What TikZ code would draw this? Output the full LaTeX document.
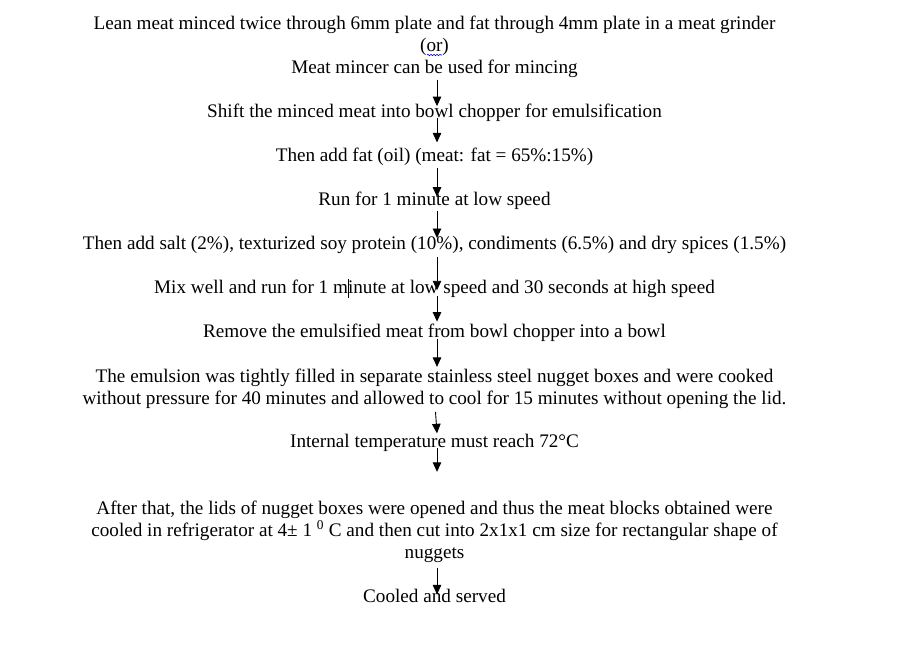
\documentclass[tikz,border=0pt]{standalone}
\usepackage{fontspec}
\setmainfont{Liberation Serif}
\usetikzlibrary{arrows.meta,decorations.pathmorphing}
\tikzset{
  lbl/.style={font=\fontsize{19.17pt}{22.05pt}\selectfont, inner sep=0pt, align=center},
  arr/.style={-{Triangle[length=9.5pt,width=8.5pt]}, line width=0.9pt},
  spell/.style={draw=blue!80!black, line width=0.6pt, decorate, decoration={snake, segment length=3pt, amplitude=0.7pt}},
  cursorline/.style={line width=0.8pt},
}
\begin{document}
\begin{tikzpicture}[x=1pt,y=-1pt]
\useasboundingbox[fill=white] (0,0) rectangle (910,662);

\node[lbl,anchor=north] (n1) at (434.5,15.7) {Lean meat minced twice through 6mm plate and fat through 4mm plate in a meat grinder\\(or)\\Meat mincer can be used for mincing};
\node[lbl,anchor=base] (n2) at (434.5,117.0) {Shift the minced meat into bowl chopper for emulsification};
\node[lbl,anchor=base] (n3) at (434.5,161.1) {Then add fat (oil) (meat: fat = 65\%:15\%)};
\node[lbl,anchor=base] (n4) at (434.5,205.2) {Run for 1 minute at low speed};
\node[lbl,anchor=base] (n5) at (434.5,249.3) {Then add salt (2\%), texturized soy protein (10\%), condiments (6.5\%) and dry spices (1.5\%)};
\node[lbl,anchor=base] (n6) at (434.5,293.4) {Mix well and run for 1 minute at low speed and 30 seconds at high speed};
\node[lbl,anchor=base] (n7) at (434.5,337.5) {Remove the emulsified meat from bowl chopper into a bowl};
\node[lbl,anchor=north] (n8) at (434.5,368.5) {The emulsion was tightly filled in separate stainless steel nugget boxes and were cooked\\without pressure for 40 minutes and allowed to cool for 15 minutes without opening the lid.};
\node[lbl,anchor=base] (n9) at (434.5,447.75) {Internal temperature must reach 72°C};
\node[lbl,anchor=north] (n10) at (434.5,500.8) {After that, the lids of nugget boxes were opened and thus the meat blocks obtained were\\cooled in refrigerator at 4± 1 \textsuperscript{0} C and then cut into 2x1x1 cm size for rectangular shape of\\nuggets};
\node[lbl,anchor=base] (n11) at (434.5,602.1) {Cooled and served};

% spell-check underline and text cursor
\coordinate (sp1) at (427,55);
\coordinate (sp2) at (442,55);
\draw[spell] (sp1) -- (sp2);
\coordinate (cu1) at (348,279);
\coordinate (cu2) at (348,298);
\draw[cursorline] (cu1) -- (cu2);

% arrows
\draw[arr] ([shift={(2.5,1.7)}]n1.south) -- ([shift={(2.5,-10.9)}]n2.base);
\draw[arr] ([shift={(2.5,1.1)}]n2.base) -- ([shift={(2.5,-18.7)}]n3.base);
\draw[arr] ([shift={(2.5,7.3)}]n3.base) -- ([shift={(2.5,-8.5)}]n4.base);
\draw[arr] ([shift={(2.5,5.5)}]n4.base) -- ([shift={(2.5,-11.3)}]n5.base);
\draw[arr] ([shift={(2.5,7.7)}]n5.base) -- ([shift={(2.5,-3.1)}]n6.base);
\draw[arr] ([shift={(2.5,2.9)}]n6.base) -- ([shift={(2.5,-15.9)}]n7.base);
\draw[arr] ([shift={(2.5,1.1)}]n7.base) -- ([shift={(2.5,-1.6)}]n8.north);
\draw[arr] ([shift={(1,3.2)}]n8.south) -- ([shift={(2.5,-14.4)}]n9.base);
\draw[arr] ([shift={(2.5,0.6)}]n9.base) -- ([shift={(2.5,-29.0)}]n10.north);
\draw[arr] ([shift={(2.5,4.9)}]n10.south) -- ([shift={(2.5,-7.7)}]n11.base);
\end{tikzpicture}
\end{document}
